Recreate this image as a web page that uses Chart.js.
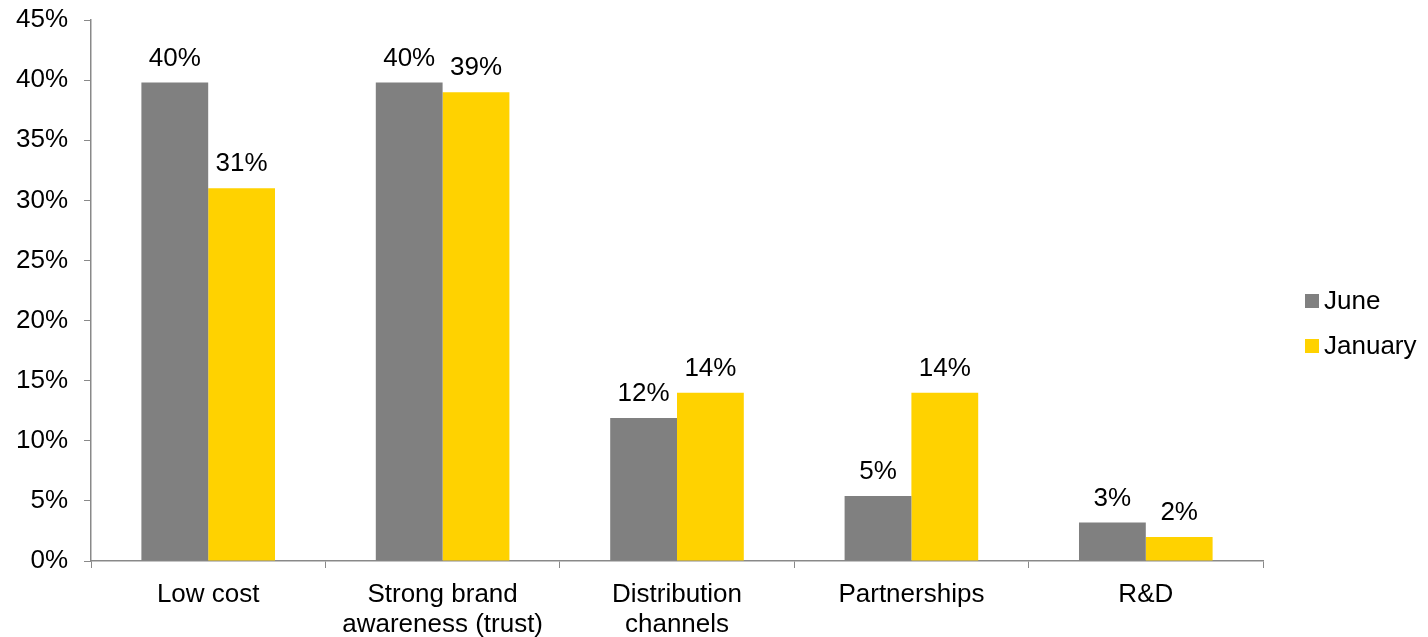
<!DOCTYPE html>
<html>
<head>
<meta charset="utf-8">
<script src="https://cdn.jsdelivr.net/npm/chart.js@4.4.0/dist/chart.umd.min.js"></script>
<style>
html,body{margin:0;padding:0;background:#fff;}
#wrap{width:1428px;height:637px;position:relative;}
</style>
</head>
<body>
<div id="wrap"><canvas id="c" width="1428" height="637"></canvas></div>
<script>
const categories = [['Low cost'], ['Strong brand', 'awareness (trust)'], ['Distribution', 'channels'], ['Partnerships'], ['R&D']];
const juneValues = [39.8, 39.8, 11.9, 5.4, 3.2];
const januaryValues = [31.0, 39.0, 14.0, 14.0, 2.0];
const seriesNames = ['June', 'January'];
const yTicks = [0, 5, 10, 15, 20, 25, 30, 35, 40, 45];

const FONT = 'Liberation Sans, Arial, sans-serif';
const FS = 26;

const valueLabels = {
  id: 'valueLabels',
  afterDatasetsDraw(chart) {
    const ctx = chart.ctx;
    ctx.save();
    ctx.font = FS + 'px ' + FONT;
    ctx.fillStyle = '#000';
    ctx.textAlign = 'center';
    ctx.textBaseline = 'alphabetic';
    chart.data.datasets.forEach((ds, i) => {
      chart.getDatasetMeta(i).data.forEach((bar, j) => {
        ctx.fillText(Math.round(ds.data[j]) + '%', bar.x, bar.y - 17);
      });
    });
    ctx.restore();
  }
};

const customLegend = {
  id: 'customLegend',
  afterDraw(chart) {
    const ctx = chart.ctx;
    ctx.save();
    ctx.font = FS + 'px ' + FONT;
    ctx.textBaseline = 'middle';
    ctx.textAlign = 'left';
    const ys = [301, 346];
    chart.data.datasets.forEach((ds, i) => {
      ctx.fillStyle = ds.backgroundColor;
      ctx.fillRect(1305, ys[i] - 7, 14, 14);
      ctx.fillStyle = '#000';
      ctx.fillText(ds.label, 1324, ys[i] + 1);
    });
    ctx.restore();
  }
};

new Chart(document.getElementById('c'), {
  type: 'bar',
  data: {
    labels: categories,
    datasets: [
      { label: seriesNames[0], data: juneValues, backgroundColor: '#808080', categoryPercentage: 0.57, barPercentage: 1.0 },
      { label: seriesNames[1], data: januaryValues, backgroundColor: '#FFD200', categoryPercentage: 0.57, barPercentage: 1.0 }
    ]
  },
  options: {
    responsive: false,
    animation: false,
    layout: { padding: { left: 0, right: 165, top: 20, bottom: 0 } },
    plugins: { legend: { display: false }, tooltip: { enabled: false } },
    scales: {
      x: {
        grid: { display: true, drawOnChartArea: false, drawTicks: true, tickLength: 7, color: '#898989', offset: true },
        border: { display: true, color: '#898989', width: 1.5 },
        ticks: { color: '#000', font: { family: FONT, size: FS, lineHeight: 1.15 }, padding: 12, maxRotation: 0, autoSkip: false },
        afterFit(s) { s.height = 76; s.paddingLeft = 0; s.paddingRight = 0; }
      },
      y: {
        min: 0, max: 45,
        afterBuildTicks(s) { s.ticks = yTicks.map(v => ({ value: v })); },
        grid: { display: true, drawOnChartArea: false, drawTicks: true, tickLength: 7, color: '#898989' },
        border: { display: true, color: '#898989', width: 1.5 },
        ticks: { color: '#000', font: { family: FONT, size: FS }, padding: 16, callback: v => v + '%' },
        afterFit(s) { s.width = 91; s.paddingTop = 0; s.paddingBottom = 0; }
      }
    }
  },
  plugins: [valueLabels, customLegend]
});
</script>
</body>
</html>
